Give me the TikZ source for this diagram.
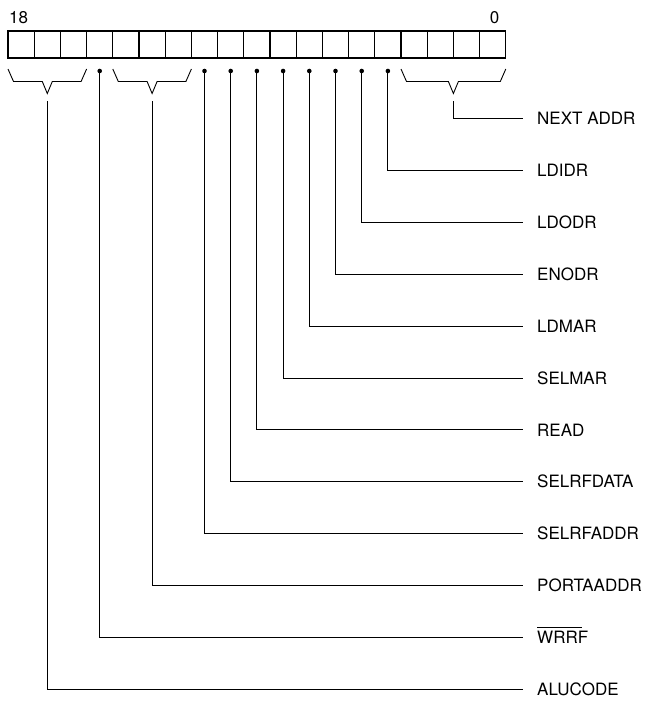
\documentclass[tikz,border=0pt]{standalone}
\usepackage{fontspec}
\setmainfont{TeX Gyre Heros}
\usetikzlibrary{calc}

\tikzset{
  cellbox/.style={draw, line width=1.1pt, minimum width=26.2pt, minimum height=27pt,
                  inner sep=0pt, outer sep=0pt, anchor=north west},
  wire/.style={line width=0.9pt},
  brace/.style={line width=0.9pt, line join=miter},
  tap/.style={fill, circle, inner sep=0pt, minimum size=4.6pt},
  lbl/.style={anchor=west, inner sep=0pt, text height=12.3pt, text depth=0pt,
              font=\fontsize{17}{20}\selectfont},
  bitno/.style={inner sep=0pt, font=\fontsize{17}{20}\selectfont}
}

% active-low name: a bar set well above the capitals
\newcommand\lowbar[1]{%
  \setbox0\hbox{#1}%
  \rlap{\rule[16pt]{0.88\wd0}{0.8pt}}\box0}

% bracket under a field of cells: #1 leftmost cell, #2 rightmost cell, #3 name
\newcommand\fieldbrace[3]{%
  \coordinate (#3L) at (#1.south west);
  \coordinate (#3R) at (#2.south east);
  \coordinate (#3) at ($(#3L)!0.5!(#3R)$);
  \draw[brace] ($(#3L)+(0,11)$) -- ($(#3L)+(5.5,23.5)$) -- ($(#3)+(-5,23.5)$)
    -- ($(#3)+(0,35.5)$) -- ($(#3)+(5,23.5)$) -- ($(#3R)+(-5.5,23.5)$) -- ($(#3R)+(0,11)$);
  \coordinate (#3stem) at ($(#3)+(0,43)$);
}

\begin{document}
\begin{tikzpicture}[x=1pt, y=-1pt]
\useasboundingbox (0,0) rectangle (653,702);

% 19-bit control word, bit 18 on the left
\foreach \i in {0,...,18} {
  \pgfmathtruncatemacro\b{18-\i}
  \node[cellbox] (cell\b) at ({8+26.2*\i},31) {};
}
\node[bitno, anchor=base west] (msb) at (9,23) {18};
\node[bitno, anchor=base] (lsb) at (494.5,23) {0};

% output rows
\foreach \k/\name/\txt in {0/next/NEXT ADDR, 1/ldidr/LDIDR, 2/ldodr/LDODR, 3/enodr/ENODR,
    4/ldmar/LDMAR, 5/selmar/SELMAR, 6/read/READ, 7/selrfdata/SELRFDATA,
    8/selrfaddr/SELRFADDR, 9/portaaddr/PORTAADDR, 11/alucode/ALUCODE} {
  \coordinate (e\name) at (523,{118.5+51.9*\k});
  \node[lbl] (t\name) at ($(e\name)+(14,0)$) {\txt};
}
\coordinate (ewrrf) at (523,{118.5+51.9*10});
\node[lbl] (twrrf) at ($(ewrrf)+(14,0)$) {\lowbar{WRRF}};

% single-bit signals
\foreach \b/\name in {4/ldidr, 5/ldodr, 6/enodr, 7/ldmar, 8/selmar, 9/read,
    10/selrfdata, 11/selrfaddr, 15/wrrf} {
  \node[tap] (d\name) at ($(cell\b.south)+(0,13)$) {};
  \draw[wire] (d\name.center) |- (e\name);
}

% multi-bit fields
\fieldbrace{cell3}{cell0}{next}
\draw[wire] (nextstem) |- (enext);
\fieldbrace{cell14}{cell12}{portaaddr}
\draw[wire] (portaaddrstem) |- (eportaaddr);
\fieldbrace{cell18}{cell16}{alucode}
\draw[wire] (alucodestem) |- (ealucode);
\end{tikzpicture}
\end{document}
